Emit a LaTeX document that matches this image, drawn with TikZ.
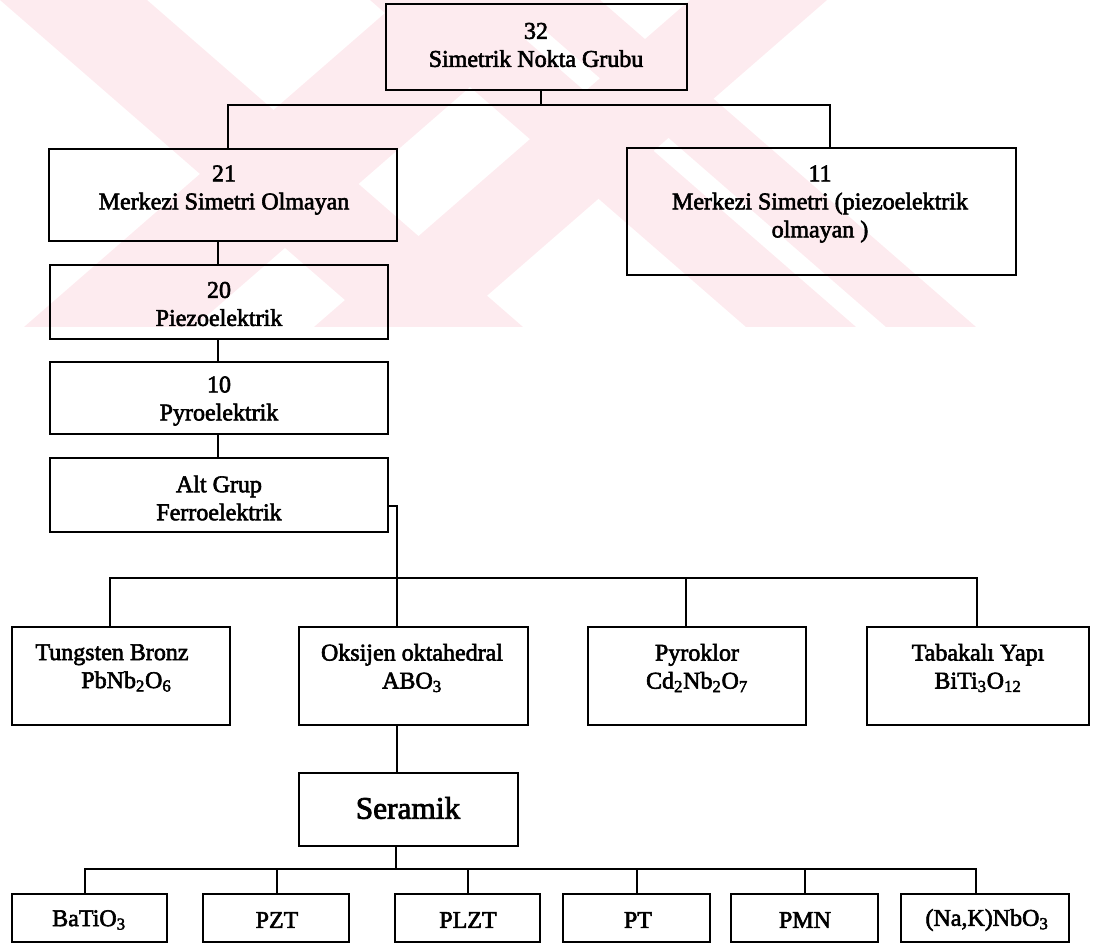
\documentclass[tikz,border=0pt]{standalone}
\usepackage{fontspec}
\setmainfont{Liberation Serif}
\newfontfamily\inkfont{Liberation Serif}[FakeBold=2.5]
\usetikzlibrary{fit}
\definecolor{wmpink}{RGB}{253,235,239}
\begin{document}
\begin{tikzpicture}[x=0.75pt,y=-0.75pt,
  box/.style={draw=black, line width=1.4pt, inner sep=0pt, rectangle},
  conn/.style={draw=black, line width=1.3pt},
  txt/.style={align=center, inner sep=0pt, font=\inkfont\fontsize{18}{21}\selectfont},
  big/.style={align=center, inner sep=0pt, font=\inkfont\fontsize{23.5}{28}\selectfont},
  band/.style={fill=wmpink, draw=none}]
\useasboundingbox (0,0) rectangle (1102,944);

% ---------- faint background emblem (upper part of the page) ----------
\begin{scope}
  \clip (0,0) rectangle (1000,327);
  % rising bands
  \fill[band] (400,0) -- (570,0) -- (194,327) -- (24,327) -- cycle;
  \fill[band] (690,0) -- (827,0) -- (451,327) -- (314,327) -- cycle;
  % falling bands
  \fill[band] (0,0) -- (147,0) -- (523,327) -- (376,327) -- cycle;
  \fill[band] (370,0) -- (480,0) -- (856,327) -- (746,327) -- cycle;
  \fill[band] (510,0) -- (600,0) -- (976,327) -- (886,327) -- cycle;
\end{scope}

% ---------- upper classification boxes ----------
\node[box, fit={(386,4) (687,90)}] (b32) {};
\node[txt] (b32t) at (536,45) {32\\Simetrik Nokta Grubu};

\node[box, fit={(49,149) (397,241)}] (b21) {};
\node[txt] (b21t) at (224,190) {21\\Merkezi Simetri Olmayan};

\node[box, fit={(627,148) (1016,275)}] (b11) {};
\node[txt] (b11t) at (820,204) {11\\Merkezi Simetri (piezoelektrik\\olmayan )};

\node[box, fit={(50,265) (388,339)}] (b20) {};
\node[txt] (b20t) at (219,304) {20\\Piezoelektrik};

\node[box, fit={(50,362) (388,434)}] (b10) {};
\node[txt] (b10t) at (219,401) {10\\Pyroelektrik};

\node[box, fit={(50,458) (388,532)}] (alt) {};
\node[txt] (altt) at (219,498) {Alt Grup\\Ferroelektrik};

% ---------- structure families ----------
\node[box, fit={(12,627) (230,725)}] (tun) {};
\node[txt] (tunt) at (112,668) {Tungsten Bronz\\\hspace*{1.2em}PbNb\textsubscript{2}O\textsubscript{6}};

\node[box, fit={(299,627) (528,725)}] (oks) {};
\node[txt] (okst) at (412,668) {Oksijen oktahedral\\ABO\textsubscript{3}};

\node[box, fit={(588,627) (806,725)}] (pyr) {};
\node[txt] (pyrt) at (697,668) {Pyroklor\\Cd\textsubscript{2}Nb\textsubscript{2}O\textsubscript{7}};

\node[box, fit={(867,627) (1089,725)}] (tab) {};
\node[txt] (tabt) at (978,668) {Tabakalı Yapı\\BiTi\textsubscript{3}O\textsubscript{12}};

% ---------- ceramics ----------
\node[box, fit={(299,773) (518,846)}] (ser) {};
\node[big] (sert) at (408,808) {Seramik};

\node[box, fit={(12,894) (167,942)}] (bat) {};
\node[txt] (batt) at (89,920) {BaTiO\textsubscript{3}};
\node[box, fit={(203,894) (349,942)}] (pzt) {};
\node[txt] (pztt) at (277,920) {PZT};
\node[box, fit={(395,894) (540,942)}] (plzt) {};
\node[txt] (plztt) at (468,920) {PLZT};
\node[box, fit={(563,894) (710,942)}] (pt) {};
\node[txt] (ptt) at (638,920) {PT};
\node[box, fit={(731,894) (878,942)}] (pmn) {};
\node[txt] (pmnt) at (805,920) {PMN};
\node[box, fit={(901,894) (1069,942)}] (nak) {};
\node[txt] (nakt) at (987,920) {(Na,K)NbO\textsubscript{3}};

% ---------- connectors ----------
\coordinate (s1) at (541,105);
\coordinate (s1l) at (228,105);
\coordinate (s1r) at (830,105);
\draw[conn] (b32.south -| s1) -- (s1);
\draw[conn] (b21.north -| s1l) -- (s1l) -- (s1r) -- (b11.north -| s1r);

\coordinate (v1) at (218,300);
\draw[conn] (b21.south -| v1) -- (b20.north -| v1);
\draw[conn] (b20.south -| v1) -- (b10.north -| v1);
\draw[conn] (b10.south -| v1) -- (alt.north -| v1);

\coordinate (e1) at (397,506);
\coordinate (s2l) at (110,578);
\coordinate (s2p) at (686,578);
\coordinate (s2r) at (977,578);
\draw[conn] (alt.east |- e1) -- (e1) -- (oks.north -| e1);
\draw[conn] (tun.north -| s2l) -- (s2l) -- (s2r) -- (tab.north -| s2r);
\draw[conn] (s2p) -- (pyr.north -| s2p);

\coordinate (v2) at (397,750);
\draw[conn] (oks.south -| v2) -- (ser.north -| v2);

\coordinate (s3m) at (396,869);
\coordinate (s3a) at (85,869);
\coordinate (s3b) at (277,869);
\coordinate (s3c) at (468,869);
\coordinate (s3d) at (637,869);
\coordinate (s3e) at (805,869);
\coordinate (s3f) at (976,869);
\draw[conn] (ser.south -| s3m) -- (s3m);
\draw[conn] (bat.north -| s3a) -- (s3a) -- (s3f) -- (nak.north -| s3f);
\draw[conn] (s3b) -- (pzt.north -| s3b);
\draw[conn] (s3c) -- (plzt.north -| s3c);
\draw[conn] (s3d) -- (pt.north -| s3d);
\draw[conn] (s3e) -- (pmn.north -| s3e);
\end{tikzpicture}
\end{document}
